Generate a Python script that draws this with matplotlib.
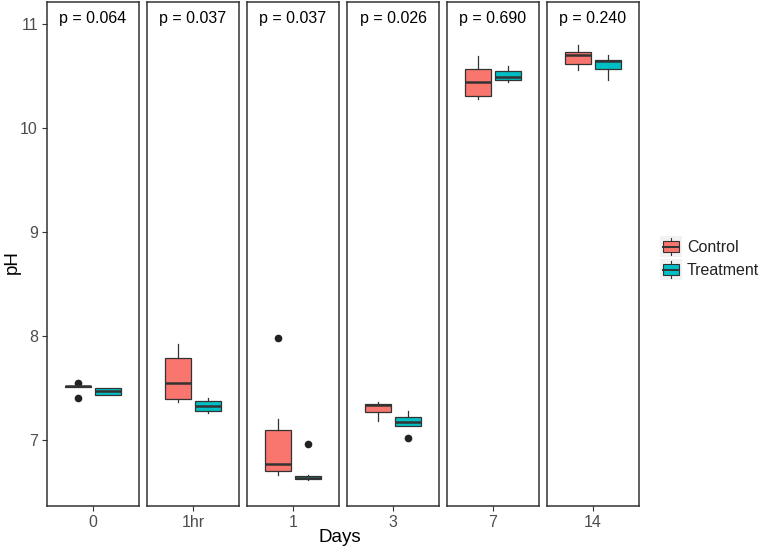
import matplotlib
matplotlib.use("Agg")
import matplotlib.pyplot as plt
from matplotlib.patches import Rectangle
from matplotlib.lines import Line2D
from matplotlib.legend_handler import HandlerBase

plt.rcParams['font.family'] = ['Liberation Sans', 'DejaVu Sans']

# datos (valores de pH)
days = ['0', '1hr', '1', '3', '7', '14']
pvals = ['0.064', '0.037', '0.037', '0.026', '0.690', '0.240']

ctrl_whislo = [7.515, 7.37, 6.67, 7.19, 10.28, 10.56]
ctrl_q1 = [7.515, 7.40, 6.71, 7.27, 10.31, 10.61]
ctrl_med = [7.52, 7.55, 6.77, 7.34, 10.44, 10.70]
ctrl_q3 = [7.525, 7.79, 7.10, 7.35, 10.57, 10.73]
ctrl_whishi = [7.525, 7.93, 7.21, 7.37, 10.69, 10.80]
ctrl_fliers = [[7.555, 7.405], [], [7.98], [], [], []]

trt_whislo = [7.44, 7.26, 6.62, 7.14, 10.44, 10.46]
trt_q1 = [7.44, 7.28, 6.625, 7.14, 10.46, 10.565]
trt_med = [7.47, 7.33, 6.64, 7.18, 10.49, 10.64]
trt_q3 = [7.50, 7.38, 6.66, 7.22, 10.545, 10.65]
trt_whishi = [7.50, 7.41, 6.67, 7.28, 10.60, 10.70]
trt_fliers = [[], [], [6.97], [7.02], [], []]

red = '#F8766D'
teal = '#00BFC4'
edge = '#333333'


def stats(lo, q1, med, q3, hi, fl):
    return dict(whislo=lo, q1=q1, med=med, q3=q3, whishi=hi, fliers=fl)


class BoxHandler(HandlerBase):
    # llave de leyenda al estilo ggplot (caja con mediana y bigote)
    def create_artists(self, legend, orig_handle, xdescent, ydescent,
                       width, height, fontsize, trans):
        x0, y0 = -xdescent, -ydescent
        bg = Rectangle((x0 - 1, y0 - 1), width + 2, height + 2, fc='#F2F2F2', ec='none', transform=trans)
        whisk = Line2D([x0 + width / 2] * 2, [y0, y0 + height], color=edge, lw=0.8, transform=trans)
        box = Rectangle((x0 + 1, y0 + height * 0.2), width - 2, height * 0.6,
                        fc=orig_handle.get_facecolor(), ec=edge, lw=0.8, transform=trans)
        med = Line2D([x0 + 1, x0 + width - 1], [y0 + height / 2] * 2, color=edge, lw=1.4, transform=trans)
        return [bg, whisk, box, med]


fig = plt.figure(figsize=(7.63, 5.5), dpi=100)
left, pw, gap = 47 / 763, 92 / 763, 8 / 763
bottom, ph = 44 / 550, 504 / 550

axes = []
for i, d in enumerate(days):
    ax = fig.add_axes([left + i * (pw + gap), bottom, pw, ph])
    axes.append(ax)
    for pos, col, st in [
        (0.81, red, stats(ctrl_whislo[i], ctrl_q1[i], ctrl_med[i], ctrl_q3[i], ctrl_whishi[i], ctrl_fliers[i])),
        (1.19, teal, stats(trt_whislo[i], trt_q1[i], trt_med[i], trt_q3[i], trt_whishi[i], trt_fliers[i])),
    ]:
        ax.bxp([st], positions=[pos], widths=0.34, patch_artist=True, showcaps=False,
               boxprops=dict(facecolor=col, edgecolor=edge, linewidth=0.9),
               medianprops=dict(color=edge, linewidth=1.8),
               whiskerprops=dict(color=edge, linewidth=0.9),
               flierprops=dict(marker='o', markerfacecolor='#222222', markeredgecolor='#222222', markersize=4.5))
    ax.set_xlim(0.4, 1.6)
    ax.set_ylim(6.37, 11.21)
    ax.set_xticks([1])
    ax.set_xticklabels([d])
    ax.text(0.5, 0.968, 'p = ' + pvals[i], transform=ax.transAxes, ha='center', va='center',
            fontsize=11.5, color='black')
    for s in ax.spines.values():
        s.set_color('#333333')
        s.set_linewidth(1.1)
    ax.tick_params(axis='both', colors='#333333', labelcolor='#4D4D4D', labelsize=11.5, length=3.5,
                   width=0.8, pad=3)
    if i == 0:
        ax.set_yticks([7, 8, 9, 10, 11])
    else:
        ax.set_yticks([])

fig.text(12 / 763, 1 - 262 / 550, 'pH', rotation=90, ha='center', va='center', fontsize=13.5, color='black')
fig.text(340 / 763, 12 / 550, 'Days', ha='center', va='center', fontsize=13.5, color='black')

handles = [Rectangle((0, 0), 1, 1, fc=red), Rectangle((0, 0), 1, 1, fc=teal)]
fig.legend(handles, ['Control', 'Treatment'], handler_map={Rectangle: BoxHandler()},
           loc='center left', bbox_to_anchor=(655 / 763, 1 - 258 / 550), frameon=False,
           fontsize=11.5, handlelength=1.2, handleheight=1.3, handletextpad=0.4, labelspacing=0.35,
           labelcolor='#222222', borderaxespad=0.2, borderpad=0.2)

plt.savefig('out.png', dpi=100)
